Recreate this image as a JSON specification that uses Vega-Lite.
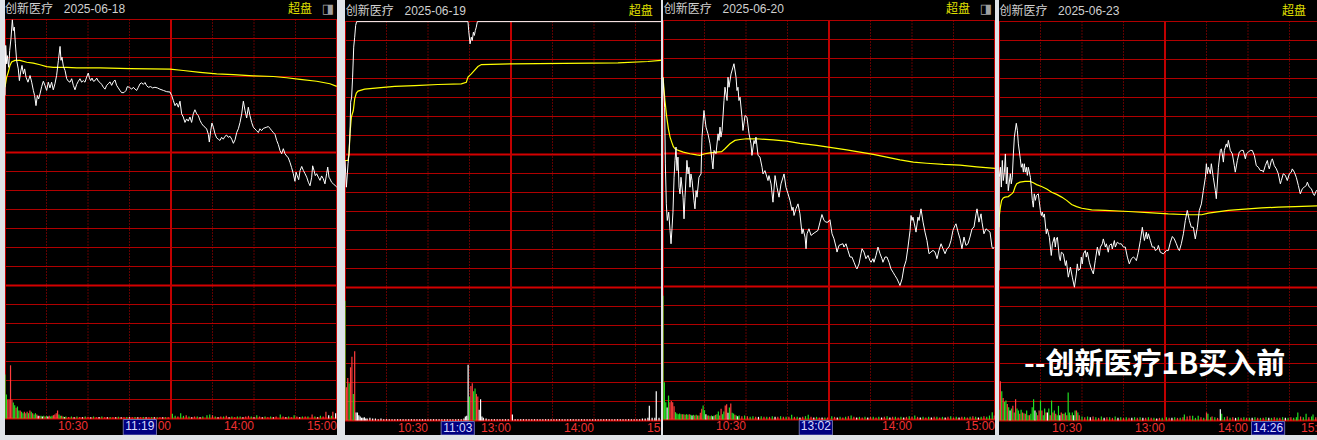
{
"$schema": "https://vega.github.io/schema/vega-lite/v6.json",
"background": "#dfe3e8",
"padding": {"left": 5, "top": 0, "right": 0, "bottom": 5},
"autosize": {"type": "pad"},
"config": {"view": {"stroke": null, "fill": "#000000"}, "axis": {"disable": true}},
"datasets": {
"vs": [{"t":0},{"t":120},{"t":240}],
"vd": [{"t":30},{"t":60},{"t":90},{"t":150},{"t":180},{"t":210}],
"tl": [{"t":60,"l":"10:30"},{"t":120,"l":"13:00"},{"t":180,"l":"14:00"},{"t":240,"l":"15:00"}],
"g1": [{"g":-8.4},{"g":-7.8},{"g":-7.2},{"g":-6.6},{"g":-6},{"g":-5.4},{"g":-4.8},{"g":-4.2},{"g":-3.6},{"g":-3},{"g":-2.4},{"g":-1.8},{"g":-1.2},{"g":-0.6},{"g":0},{"g":0.6},{"g":1.2},{"g":1.8},{"g":2.4},{"g":3},{"g":3.6},{"g":4.2}],
"g2": [{"g":-20.02},{"g":-18.59},{"g":-17.16},{"g":-15.73},{"g":-14.3},{"g":-12.87},{"g":-11.44},{"g":-10.01},{"g":-8.58},{"g":-7.15},{"g":-5.72},{"g":-4.29},{"g":-2.86},{"g":-1.43},{"g":0},{"g":1.43},{"g":2.86},{"g":4.29},{"g":5.72},{"g":7.15},{"g":8.58},{"g":10.01}],
"g3": [{"g":-11.2},{"g":-10.4},{"g":-9.6},{"g":-8.8},{"g":-8},{"g":-7.2},{"g":-6.4},{"g":-5.6},{"g":-4.8},{"g":-4},{"g":-3.2},{"g":-2.4},{"g":-1.6},{"g":-0.8},{"g":0},{"g":0.8},{"g":1.6},{"g":2.4},{"g":3.2},{"g":4},{"g":4.8},{"g":5.6}],
"g4": [{"g":-9.8},{"g":-9.1},{"g":-8.4},{"g":-7.7},{"g":-7},{"g":-6.3},{"g":-5.6},{"g":-4.9},{"g":-4.2},{"g":-3.5},{"g":-2.8},{"g":-2.1},{"g":-1.4},{"g":-0.7},{"g":0},{"g":0.7},{"g":1.4},{"g":2.1},{"g":2.8},{"g":3.5},{"g":4.2},{"g":4.9}],
"p1": [{"m":0,"p":1.8},{"m":0.5,"p":3.38},{"m":1.2,"p":2.8},{"m":1.7,"p":3.06},{"m":2.7,"p":2.69},{"m":3.4,"p":3.22},{"m":4.3,"p":3.59},{"m":5.3,"p":4.19},{"m":6,"p":3.85},{"m":6.7,"p":3.96},{"m":7.5,"p":3.43},{"m":8.4,"p":2.91},{"m":9.6,"p":2.64},{"m":10.4,"p":2.27},{"m":11.3,"p":2.54},{"m":12.3,"p":2.75},{"m":13.3,"p":2.48},{"m":14.2,"p":2.64},{"m":15.2,"p":2.38},{"m":16.6,"p":2.22},{"m":18.1,"p":2.43},{"m":19.3,"p":2.22},{"m":20.5,"p":1.96},{"m":21.4,"p":1.8},{"m":22.4,"p":1.48},{"m":23.4,"p":1.8},{"m":24.3,"p":1.69},{"m":25.3,"p":1.85},{"m":26.5,"p":2.08},{"m":27.7,"p":2.25},{"m":28.9,"p":2.12},{"m":30.1,"p":1.96},{"m":31.3,"p":2.22},{"m":32.5,"p":2.04},{"m":33.7,"p":2.22},{"m":34.9,"p":1.98},{"m":36.1,"p":2.17},{"m":37.3,"p":2.43},{"m":38.6,"p":2.91},{"m":39.8,"p":3.35},{"m":40.5,"p":2.91},{"m":41.2,"p":3.01},{"m":42.2,"p":2.72},{"m":43.4,"p":2.59},{"m":44.6,"p":2.33},{"m":45.8,"p":2.25},{"m":47,"p":2.22},{"m":48.2,"p":2.33},{"m":49.4,"p":2.12},{"m":50.6,"p":1.98},{"m":51.8,"p":2.15},{"m":53,"p":2.25},{"m":54.2,"p":2.33},{"m":55.4,"p":2.22},{"m":56.6,"p":2.27},{"m":57.8,"p":2.22},{"m":59,"p":2.38},{"m":60.2,"p":2.51},{"m":61,"p":2.36},{"m":61.9,"p":2.27},{"m":62.9,"p":2.35},{"m":63.9,"p":2.25},{"m":65.1,"p":2.27},{"m":66.3,"p":2.35},{"m":67.5,"p":2.25},{"m":68.7,"p":2.21},{"m":69.9,"p":2.15},{"m":71.1,"p":2.06},{"m":72.3,"p":2},{"m":73.5,"p":2.12},{"m":74.7,"p":2.17},{"m":75.9,"p":2.23},{"m":77.1,"p":2.12},{"m":78.3,"p":2.23},{"m":79.5,"p":2.29},{"m":80.7,"p":2.12},{"m":81.9,"p":2.04},{"m":83.1,"p":1.96},{"m":84.3,"p":1.89},{"m":86,"p":1.89},{"m":87.5,"p":1.96},{"m":88.4,"p":2.08},{"m":89.9,"p":2.06},{"m":91.6,"p":2},{"m":92.8,"p":2.06},{"m":94,"p":2},{"m":95.2,"p":1.96},{"m":96.4,"p":2.06},{"m":97.6,"p":2.17},{"m":98.8,"p":2.2},{"m":100,"p":2.15},{"m":101.2,"p":2.21},{"m":102.4,"p":2.11},{"m":103.6,"p":2.06},{"m":105.3,"p":2.08},{"m":106.7,"p":2.04},{"m":108.4,"p":2.06},{"m":110.1,"p":2.04},{"m":112,"p":2},{"m":114.5,"p":1.96},{"m":116.9,"p":1.92},{"m":119.3,"p":1.91},{"m":120.5,"p":1.8},{"m":121.7,"p":1.64},{"m":122.9,"p":1.48},{"m":124.1,"p":1.56},{"m":125.3,"p":1.43},{"m":126.5,"p":1.62},{"m":127.7,"p":1.22},{"m":128.9,"p":1.12},{"m":130.1,"p":0.95},{"m":131.3,"p":1.06},{"m":132.5,"p":0.99},{"m":133.7,"p":1.12},{"m":134.9,"p":0.95},{"m":136.1,"p":1.22},{"m":137.3,"p":1.35},{"m":138.6,"p":1.22},{"m":139.8,"p":1.16},{"m":141,"p":1.01},{"m":142.2,"p":0.91},{"m":143.4,"p":0.84},{"m":144.6,"p":0.8},{"m":145.8,"p":0.74},{"m":147,"p":0.57},{"m":147.7,"p":0.33},{"m":148.7,"p":0.69},{"m":149.6,"p":0.93},{"m":150.6,"p":0.8},{"m":151.8,"p":0.59},{"m":153,"p":0.46},{"m":154.2,"p":0.42},{"m":155.4,"p":0.38},{"m":156.6,"p":0.48},{"m":157.8,"p":0.42},{"m":159,"p":0.51},{"m":160.2,"p":0.55},{"m":161.4,"p":0.48},{"m":162.7,"p":0.51},{"m":163.9,"p":0.42},{"m":165.1,"p":0.29},{"m":166.3,"p":0.4},{"m":167.5,"p":0.63},{"m":168.7,"p":0.75},{"m":169.9,"p":0.95},{"m":171.1,"p":1.22},{"m":172.3,"p":1.62},{"m":173.5,"p":1.33},{"m":174.7,"p":1.09},{"m":175.9,"p":1.43},{"m":177.1,"p":1.16},{"m":178.3,"p":0.95},{"m":179.5,"p":0.8},{"m":180.7,"p":0.74},{"m":181.9,"p":0.69},{"m":183.1,"p":0.63},{"m":184.3,"p":0.75},{"m":185.5,"p":0.69},{"m":186.7,"p":0.76},{"m":187.9,"p":0.78},{"m":189.2,"p":0.8},{"m":190.4,"p":0.82},{"m":191.6,"p":0.76},{"m":192.8,"p":0.69},{"m":194,"p":0.63},{"m":195.2,"p":0.57},{"m":196.4,"p":0.38},{"m":197.6,"p":0.25},{"m":198.8,"p":0.06},{"m":200,"p":-0.04},{"m":201.2,"p":0.12},{"m":202.4,"p":-0.04},{"m":203.6,"p":-0.11},{"m":204.8,"p":-0.17},{"m":206,"p":-0.31},{"m":207.2,"p":-0.48},{"m":208.4,"p":-0.67},{"m":209.6,"p":-0.91},{"m":210.4,"p":-0.62},{"m":211.3,"p":-0.74},{"m":212.3,"p":-0.86},{"m":213.3,"p":-0.57},{"m":214.5,"p":-0.44},{"m":215.7,"p":-0.57},{"m":216.9,"p":-0.67},{"m":218.1,"p":-0.78},{"m":219.3,"p":-0.94},{"m":220.5,"p":-1.05},{"m":221.7,"p":-0.78},{"m":222.4,"p":-0.42},{"m":223.4,"p":-0.57},{"m":224.3,"p":-0.73},{"m":225.3,"p":-0.67},{"m":226.5,"p":-0.78},{"m":227.7,"p":-0.88},{"m":228.9,"p":-0.74},{"m":230.1,"p":-0.83},{"m":231.3,"p":-0.99},{"m":232.5,"p":-0.67},{"m":233.3,"p":-0.46},{"m":234.2,"p":-0.78},{"m":234.9,"p":-0.83},{"m":236.1,"p":-0.94},{"m":237.3,"p":-0.99},{"m":238.6,"p":-1.04},{"m":239.8,"p":-1.09}],
"a1": [{"m":0,"p":2.06},{"m":1.2,"p":2.38},{"m":2.4,"p":2.54},{"m":3.6,"p":2.75},{"m":4.8,"p":2.86},{"m":7.2,"p":2.91},{"m":10.8,"p":2.91},{"m":15.7,"p":2.85},{"m":20.5,"p":2.82},{"m":25.3,"p":2.77},{"m":30.1,"p":2.71},{"m":34.9,"p":2.69},{"m":44.6,"p":2.69},{"m":51.8,"p":2.67},{"m":68.7,"p":2.67},{"m":90.4,"p":2.65},{"m":119.3,"p":2.63},{"m":128.9,"p":2.59},{"m":141,"p":2.53},{"m":153,"p":2.48},{"m":165.1,"p":2.46},{"m":179.5,"p":2.42},{"m":194,"p":2.4},{"m":203.6,"p":2.36},{"m":213.3,"p":2.31},{"m":225.3,"p":2.25},{"m":234.9,"p":2.17},{"m":239.8,"p":2.09}],
"v1": [{"m":0,"v":33,"c":"g"},{"m":1,"v":18,"c":"g"},{"m":2,"v":14,"c":"r"},{"m":3,"v":14,"c":"r"},{"m":4,"v":40,"c":"r"},{"m":5,"v":14,"c":"r"},{"m":6,"v":12,"c":"g"},{"m":7,"v":10,"c":"g"},{"m":8,"v":8,"c":"r"},{"m":9,"v":9,"c":"g"},{"m":10,"v":6,"c":"g"},{"m":11,"v":6,"c":"r"},{"m":12,"v":5,"c":"g"},{"m":13,"v":4,"c":"g"},{"m":14,"v":5,"c":"r"},{"m":15,"v":4,"c":"g"},{"m":16,"v":5,"c":"r"},{"m":17,"v":4,"c":"g"},{"m":18,"v":6,"c":"r"},{"m":19,"v":5,"c":"g"},{"m":20,"v":4,"c":"r"},{"m":21,"v":3,"c":"g"},{"m":22,"v":4,"c":"g"},{"m":23,"v":3,"c":"r"},{"m":24,"v":2,"c":"w"},{"m":25,"v":2,"c":"r"},{"m":26,"v":2,"c":"g"},{"m":27,"v":1.5,"c":"w"},{"m":28,"v":2,"c":"g"},{"m":29,"v":1.5,"c":"r"},{"m":30,"v":2,"c":"g"},{"m":31,"v":1.5,"c":"w"},{"m":32,"v":2,"c":"r"},{"m":33,"v":1.5,"c":"g"},{"m":34,"v":2,"c":"g"},{"m":35,"v":2.5,"c":"r"},{"m":36,"v":3,"c":"r"},{"m":37,"v":4,"c":"r"},{"m":38,"v":6,"c":"r"},{"m":39,"v":3,"c":"g"},{"m":40,"v":2,"c":"g"},{"m":41,"v":2,"c":"r"},{"m":42,"v":1.5,"c":"g"},{"m":43,"v":1,"c":"w"},{"m":44,"v":1.5,"c":"g"},{"m":46,"v":1.2,"c":"r"},{"m":48,"v":1.5,"c":"g"},{"m":50,"v":1,"c":"w"},{"m":52,"v":1.5,"c":"g"},{"m":54,"v":1.2,"c":"r"},{"m":56,"v":1,"c":"w"},{"m":58,"v":1.5,"c":"g"},{"m":60,"v":1.2,"c":"r"},{"m":62,"v":1,"c":"w"},{"m":64,"v":1.5,"c":"g"},{"m":66,"v":1,"c":"r"},{"m":68,"v":1.2,"c":"w"},{"m":70,"v":1.5,"c":"g"},{"m":72,"v":1,"c":"r"},{"m":74,"v":1,"c":"w"},{"m":76,"v":1.2,"c":"g"},{"m":78,"v":1,"c":"r"},{"m":80,"v":1,"c":"w"},{"m":82,"v":1.3,"c":"g"},{"m":84,"v":1,"c":"w"},{"m":86,"v":1,"c":"r"},{"m":88,"v":1.2,"c":"g"},{"m":90,"v":1,"c":"w"},{"m":92,"v":1,"c":"r"},{"m":94,"v":1.2,"c":"g"},{"m":96,"v":1,"c":"w"},{"m":98,"v":1,"c":"r"},{"m":100,"v":1.2,"c":"g"},{"m":102,"v":1,"c":"w"},{"m":104,"v":1,"c":"r"},{"m":106,"v":1.2,"c":"g"},{"m":108,"v":1,"c":"w"},{"m":110,"v":1,"c":"g"},{"m":112,"v":1,"c":"r"},{"m":114,"v":1,"c":"w"},{"m":116,"v":1,"c":"g"},{"m":118,"v":1,"c":"r"},{"m":121,"v":3.5,"c":"g"},{"m":123,"v":2,"c":"g"},{"m":125,"v":1.5,"c":"r"},{"m":127,"v":4,"c":"g"},{"m":129,"v":2,"c":"g"},{"m":131,"v":2.5,"c":"r"},{"m":133,"v":1.5,"c":"g"},{"m":135,"v":1,"c":"w"},{"m":137,"v":1.5,"c":"r"},{"m":139,"v":1.5,"c":"g"},{"m":141,"v":1,"c":"w"},{"m":143,"v":1.5,"c":"g"},{"m":146,"v":2.5,"c":"g"},{"m":148,"v":3,"c":"g"},{"m":150,"v":2.5,"c":"r"},{"m":152,"v":1.5,"c":"g"},{"m":154,"v":1,"c":"w"},{"m":156,"v":1.5,"c":"r"},{"m":158,"v":1.5,"c":"g"},{"m":160,"v":2,"c":"r"},{"m":162,"v":1,"c":"w"},{"m":164,"v":1.5,"c":"g"},{"m":166,"v":1,"c":"r"},{"m":168,"v":1.5,"c":"g"},{"m":170,"v":1.5,"c":"g"},{"m":172,"v":1,"c":"w"},{"m":174,"v":1.5,"c":"r"},{"m":176,"v":2,"c":"r"},{"m":178,"v":1.5,"c":"g"},{"m":180,"v":1,"c":"w"},{"m":182,"v":2.5,"c":"g"},{"m":184,"v":1.5,"c":"r"},{"m":186,"v":1,"c":"w"},{"m":188,"v":1.5,"c":"g"},{"m":190,"v":1,"c":"r"},{"m":192,"v":1.5,"c":"g"},{"m":194,"v":1,"c":"w"},{"m":196,"v":1.5,"c":"r"},{"m":199,"v":3,"c":"g"},{"m":201,"v":1.5,"c":"r"},{"m":203,"v":1,"c":"w"},{"m":205,"v":1.5,"c":"g"},{"m":207,"v":1,"c":"r"},{"m":209,"v":2.5,"c":"g"},{"m":211,"v":1.5,"c":"r"},{"m":213,"v":1,"c":"w"},{"m":215,"v":1.5,"c":"g"},{"m":217,"v":1.5,"c":"r"},{"m":219,"v":1.5,"c":"g"},{"m":222,"v":3,"c":"r"},{"m":224,"v":1.5,"c":"g"},{"m":226,"v":1,"c":"w"},{"m":228,"v":2,"c":"g"},{"m":230,"v":1.5,"c":"r"},{"m":232,"v":5,"c":"r"},{"m":234,"v":2.5,"c":"w"},{"m":236,"v":2,"c":"g"},{"m":237,"v":5,"c":"r"},{"m":239,"v":4,"c":"w"}],
"p2": [{"m":0,"p":-0.45},{"m":1,"p":-2.46},{"m":1.7,"p":-1.46},{"m":2.2,"p":-0.7},{"m":2.9,"p":0.05},{"m":3.6,"p":1.56},{"m":4.1,"p":3.94},{"m":4.8,"p":4.32},{"m":5.5,"p":5.82},{"m":6.3,"p":8.08},{"m":7,"p":8.83},{"m":7.7,"p":9.71},{"m":8.4,"p":10},{"m":88.9,"p":10},{"m":89.4,"p":9.33},{"m":90.4,"p":8.33},{"m":91.3,"p":8.83},{"m":92,"p":8.58},{"m":92.8,"p":9.21},{"m":93.5,"p":8.96},{"m":94.2,"p":9.33},{"m":94.9,"p":9.58},{"m":95.7,"p":10},{"m":240,"p":10}],
"a2": [{"m":0,"p":-0.45},{"m":2.2,"p":-0.45},{"m":2.9,"p":0.05},{"m":3.6,"p":1.56},{"m":4.6,"p":2.81},{"m":6,"p":3.31},{"m":7,"p":4.19},{"m":8.2,"p":4.62},{"m":9.4,"p":4.77},{"m":14.2,"p":4.92},{"m":23.9,"p":5.02},{"m":35.9,"p":5.12},{"m":50.4,"p":5.19},{"m":67.2,"p":5.27},{"m":84.1,"p":5.32},{"m":87.7,"p":5.44},{"m":88.9,"p":5.82},{"m":91.3,"p":6.07},{"m":96.1,"p":6.62},{"m":98.6,"p":6.77},{"m":120.2,"p":6.82},{"m":197.3,"p":6.9},{"m":219,"p":7},{"m":228.2,"p":7.08},{"m":240,"p":7.12}],
"v2": [{"m":0,"v":90,"c":"g"},{"m":1,"v":25,"c":"r"},{"m":2,"v":32,"c":"r"},{"m":3,"v":28,"c":"g"},{"m":4,"v":40,"c":"r"},{"m":5,"v":48,"c":"r"},{"m":6,"v":20,"c":"g"},{"m":7,"v":52,"c":"r"},{"m":8,"v":6,"c":"w"},{"m":9,"v":6,"c":"w"},{"m":10,"v":4,"c":"w"},{"m":11,"v":3,"c":"w"},{"m":12,"v":2,"c":"w"},{"m":13,"v":2,"c":"w"},{"m":14,"v":2.5,"c":"w"},{"m":15,"v":1.5,"c":"w"},{"m":16,"v":1.5,"c":"w"},{"m":18,"v":2,"c":"w"},{"m":20,"v":1.5,"c":"w"},{"m":22,"v":1.5,"c":"w"},{"m":24,"v":1,"c":"w"},{"m":26,"v":1.5,"c":"w"},{"m":28,"v":1,"c":"w"},{"m":30,"v":1,"c":"w"},{"m":32,"v":1,"c":"w"},{"m":34,"v":1,"c":"w"},{"m":36,"v":1,"c":"w"},{"m":38,"v":1,"c":"w"},{"m":40,"v":1,"c":"w"},{"m":42,"v":1,"c":"w"},{"m":44,"v":1,"c":"w"},{"m":46,"v":1,"c":"w"},{"m":48,"v":1,"c":"w"},{"m":50,"v":1,"c":"w"},{"m":52,"v":1,"c":"w"},{"m":54,"v":1,"c":"w"},{"m":56,"v":1,"c":"w"},{"m":58,"v":1,"c":"w"},{"m":60,"v":1,"c":"w"},{"m":62,"v":1,"c":"w"},{"m":64,"v":1,"c":"w"},{"m":66,"v":1,"c":"w"},{"m":68,"v":1,"c":"w"},{"m":70,"v":1,"c":"w"},{"m":72,"v":1,"c":"w"},{"m":74,"v":1,"c":"w"},{"m":76,"v":1,"c":"w"},{"m":78,"v":1,"c":"w"},{"m":80,"v":1,"c":"w"},{"m":82,"v":1,"c":"w"},{"m":84,"v":1,"c":"w"},{"m":86,"v":1.5,"c":"w"},{"m":87,"v":3,"c":"w"},{"m":88,"v":3.5,"c":"w"},{"m":89,"v":42,"c":"w"},{"m":90,"v":18,"c":"g"},{"m":91,"v":26,"c":"r"},{"m":92,"v":28,"c":"r"},{"m":93,"v":22,"c":"g"},{"m":94,"v":24,"c":"g"},{"m":95,"v":20,"c":"r"},{"m":96,"v":18,"c":"r"},{"m":97,"v":8,"c":"w"},{"m":98,"v":16,"c":"w"},{"m":99,"v":3,"c":"w"},{"m":100,"v":2,"c":"w"},{"m":102,"v":1.5,"c":"w"},{"m":104,"v":1,"c":"w"},{"m":106,"v":1,"c":"w"},{"m":108,"v":1,"c":"w"},{"m":110,"v":1,"c":"w"},{"m":112,"v":1,"c":"w"},{"m":114,"v":1,"c":"w"},{"m":116,"v":1,"c":"w"},{"m":118,"v":1,"c":"w"},{"m":121,"v":4.5,"c":"w"},{"m":123,"v":1,"c":"w"},{"m":125,"v":1,"c":"w"},{"m":127,"v":1,"c":"w"},{"m":129,"v":1,"c":"w"},{"m":131,"v":1,"c":"w"},{"m":133,"v":1,"c":"w"},{"m":135,"v":1,"c":"w"},{"m":137,"v":1,"c":"w"},{"m":139,"v":1,"c":"w"},{"m":141,"v":1,"c":"w"},{"m":143,"v":1,"c":"w"},{"m":145,"v":1,"c":"w"},{"m":147,"v":1,"c":"w"},{"m":149,"v":1,"c":"w"},{"m":151,"v":1,"c":"w"},{"m":153,"v":1,"c":"w"},{"m":155,"v":1,"c":"w"},{"m":157,"v":1,"c":"w"},{"m":159,"v":1,"c":"w"},{"m":161,"v":1,"c":"w"},{"m":163,"v":1,"c":"w"},{"m":165,"v":1,"c":"w"},{"m":167,"v":1,"c":"w"},{"m":169,"v":1,"c":"w"},{"m":171,"v":1,"c":"w"},{"m":173,"v":1,"c":"w"},{"m":175,"v":1,"c":"w"},{"m":177,"v":1,"c":"w"},{"m":179,"v":1,"c":"w"},{"m":181,"v":1,"c":"w"},{"m":183,"v":1,"c":"w"},{"m":185,"v":1,"c":"w"},{"m":187,"v":1,"c":"w"},{"m":189,"v":1,"c":"w"},{"m":191,"v":1,"c":"w"},{"m":193,"v":1,"c":"w"},{"m":195,"v":1,"c":"w"},{"m":197,"v":1,"c":"w"},{"m":199,"v":1,"c":"w"},{"m":201,"v":1,"c":"w"},{"m":203,"v":1,"c":"w"},{"m":205,"v":1,"c":"w"},{"m":207,"v":1,"c":"w"},{"m":209,"v":1,"c":"w"},{"m":211,"v":1,"c":"w"},{"m":213,"v":1,"c":"w"},{"m":215,"v":1.5,"c":"w"},{"m":217,"v":1.5,"c":"w"},{"m":219,"v":2,"c":"w"},{"m":220,"v":11,"c":"w"},{"m":222,"v":2,"c":"w"},{"m":224,"v":2,"c":"w"},{"m":225,"v":22,"c":"w"},{"m":227,"v":2,"c":"w"}],
"p3": [{"m":0,"p":3.21},{"m":1.2,"p":1.95},{"m":1.7,"p":-0.44},{"m":2.4,"p":-2.12},{"m":3.1,"p":-2.82},{"m":4.1,"p":-2.47},{"m":5.1,"p":-3.24},{"m":5.8,"p":-3.8},{"m":6.5,"p":-3.17},{"m":7.2,"p":-2.47},{"m":8,"p":-1},{"m":8.7,"p":-0.29},{"m":9.4,"p":0.27},{"m":10.1,"p":-0.72},{"m":10.8,"p":-0.15},{"m":11.6,"p":-1.42},{"m":12.3,"p":-1.7},{"m":13,"p":-1},{"m":14.5,"p":-1.84},{"m":15.2,"p":-2.75},{"m":15.9,"p":-1.84},{"m":17.3,"p":-0.29},{"m":18.1,"p":-0.86},{"m":18.8,"p":-0.58},{"m":19.5,"p":-1.42},{"m":20.2,"p":-0.86},{"m":21,"p":-1.14},{"m":22.4,"p":-1.98},{"m":23.1,"p":-2.33},{"m":23.9,"p":-1.56},{"m":24.6,"p":-1.84},{"m":26,"p":-1},{"m":27.5,"p":-0.86},{"m":28.2,"p":0.69},{"m":29.6,"p":1.81},{"m":31.1,"p":1.11},{"m":32.5,"p":0.83},{"m":34,"p":0.41},{"m":35.4,"p":-0.29},{"m":36.1,"p":-0.65},{"m":36.9,"p":0.13},{"m":38.3,"p":-0.01},{"m":39.8,"p":0.83},{"m":40.5,"p":0.55},{"m":41.2,"p":1.11},{"m":41.9,"p":0.69},{"m":42.7,"p":0.97},{"m":44.1,"p":2.23},{"m":44.8,"p":2.79},{"m":46.3,"p":2.23},{"m":47,"p":3.21},{"m":47.7,"p":2.79},{"m":49.2,"p":3.35},{"m":50.6,"p":3.64},{"m":51.3,"p":3.78},{"m":52.8,"p":3.21},{"m":53.5,"p":2.65},{"m":54.2,"p":2.79},{"m":54.9,"p":2.23},{"m":55.7,"p":2.37},{"m":57.1,"p":1.53},{"m":57.8,"p":0.97},{"m":59.3,"p":1.6},{"m":60.7,"p":1.53},{"m":62.2,"p":0.83},{"m":63.6,"p":0.41},{"m":64.3,"p":-0.08},{"m":65.8,"p":0.55},{"m":66.5,"p":0.41},{"m":67.2,"p":0.69},{"m":68.7,"p":-0.08},{"m":70.1,"p":-0.15},{"m":71.6,"p":-0.58},{"m":72.3,"p":-0.86},{"m":73.7,"p":-0.72},{"m":75.9,"p":-1.14},{"m":76.6,"p":-0.93},{"m":78.1,"p":-1.28},{"m":79.5,"p":-2.05},{"m":81,"p":-0.93},{"m":82.4,"p":-1.42},{"m":83.9,"p":-1.84},{"m":85.3,"p":-1.28},{"m":87.5,"p":-0.86},{"m":88.9,"p":-1.42},{"m":90.4,"p":-1.7},{"m":91.8,"p":-1.98},{"m":93.3,"p":-2.4},{"m":94,"p":-2.26},{"m":94.7,"p":-2.61},{"m":96.1,"p":-2.33},{"m":97.6,"p":-2.12},{"m":99,"p":-2.54},{"m":100.5,"p":-3.38},{"m":101.2,"p":-3.17},{"m":102.7,"p":-3.52},{"m":103.4,"p":-4.01},{"m":104.1,"p":-3.38},{"m":105.5,"p":-3.17},{"m":107,"p":-3.45},{"m":109.2,"p":-3.35},{"m":112,"p":-3.24},{"m":113.5,"p":-2.89},{"m":114.9,"p":-2.57},{"m":116.4,"p":-2.82},{"m":117.8,"p":-2.89},{"m":119.3,"p":-2.89},{"m":120.7,"p":-2.79},{"m":122.2,"p":-3.38},{"m":123.6,"p":-3.59},{"m":125.1,"p":-3.94},{"m":125.8,"p":-4.15},{"m":127.2,"p":-3.87},{"m":128.7,"p":-3.83},{"m":130.1,"p":-3.8},{"m":130.8,"p":-3.94},{"m":132.3,"p":-3.8},{"m":133.7,"p":-4.08},{"m":135.2,"p":-4.36},{"m":136.6,"p":-4.36},{"m":138.1,"p":-4.58},{"m":139.5,"p":-4.79},{"m":140.2,"p":-4.86},{"m":141.7,"p":-4.65},{"m":143.1,"p":-4.22},{"m":143.9,"p":-4.01},{"m":145.3,"p":-4.15},{"m":146.7,"p":-4.43},{"m":148.2,"p":-4.29},{"m":149.6,"p":-4.51},{"m":150.4,"p":-4.58},{"m":151.8,"p":-4.43},{"m":152.5,"p":-4.58},{"m":154,"p":-4.29},{"m":155.4,"p":-3.94},{"m":156.9,"p":-4.22},{"m":158.3,"p":-4.43},{"m":159,"p":-4.58},{"m":160.5,"p":-4.36},{"m":161.9,"p":-4.36},{"m":163.4,"p":-4.58},{"m":164.8,"p":-4.86},{"m":166.3,"p":-5},{"m":167.7,"p":-5.14},{"m":169.2,"p":-5.28},{"m":170.6,"p":-5.46},{"m":171.3,"p":-5.56},{"m":172.8,"p":-5.28},{"m":174.2,"p":-4.79},{"m":175.7,"p":-4.51},{"m":177.1,"p":-3.94},{"m":178.6,"p":-3.24},{"m":179.3,"p":-2.61},{"m":180,"p":-2.82},{"m":180.7,"p":-2.68},{"m":182.2,"p":-3.1},{"m":182.9,"p":-3.31},{"m":184.3,"p":-2.68},{"m":185.1,"p":-2.82},{"m":186.5,"p":-2.33},{"m":188,"p":-2.89},{"m":189.4,"p":-3.31},{"m":190.8,"p":-3.66},{"m":192.3,"p":-4.22},{"m":193.7,"p":-4.15},{"m":195.2,"p":-4.08},{"m":196.6,"p":-4.15},{"m":198.1,"p":-4.43},{"m":199.5,"p":-4.08},{"m":201,"p":-3.8},{"m":202.4,"p":-4.01},{"m":203.9,"p":-4.22},{"m":205.3,"p":-4.01},{"m":206.7,"p":-3.94},{"m":208.2,"p":-3.66},{"m":209.6,"p":-3.24},{"m":211.1,"p":-3.03},{"m":211.8,"p":-2.96},{"m":213.3,"p":-3.31},{"m":214.7,"p":-3.59},{"m":216.1,"p":-4.01},{"m":217.6,"p":-3.52},{"m":219,"p":-3.87},{"m":220.5,"p":-3.8},{"m":221.9,"p":-3.52},{"m":223.4,"p":-3.17},{"m":224.8,"p":-3.1},{"m":226.3,"p":-2.54},{"m":227,"p":-2.33},{"m":228.4,"p":-2.89},{"m":229.9,"p":-2.54},{"m":230.6,"p":-2.89},{"m":232,"p":-3.38},{"m":233.5,"p":-3.17},{"m":234.9,"p":-3.24},{"m":236.4,"p":-3.31},{"m":237.8,"p":-3.94},{"m":238.6,"p":-4.01},{"m":239.3,"p":-3.94}],
"a3": [{"m":0,"p":3.21},{"m":1.4,"p":2.23},{"m":2.7,"p":1.53},{"m":3.9,"p":1.04},{"m":5.1,"p":0.69},{"m":6.3,"p":0.48},{"m":7.5,"p":0.29},{"m":8.7,"p":0.2},{"m":11.1,"p":0.13},{"m":14.7,"p":0.06},{"m":19.5,"p":-0.01},{"m":24.3,"p":-0.06},{"m":26.7,"p":-0.08},{"m":30.4,"p":-0.01},{"m":34,"p":0.03},{"m":38.8,"p":0.06},{"m":42.4,"p":0.08},{"m":44.8,"p":0.2},{"m":48.4,"p":0.41},{"m":52,"p":0.55},{"m":55.7,"p":0.59},{"m":60.5,"p":0.62},{"m":67.7,"p":0.62},{"m":79.7,"p":0.57},{"m":89.4,"p":0.52},{"m":99,"p":0.43},{"m":111.1,"p":0.34},{"m":123.1,"p":0.24},{"m":132.8,"p":0.15},{"m":142.4,"p":0.06},{"m":152,"p":-0.04},{"m":161.7,"p":-0.15},{"m":171.3,"p":-0.27},{"m":181,"p":-0.36},{"m":190.6,"p":-0.41},{"m":202.7,"p":-0.46},{"m":214.7,"p":-0.49},{"m":226.8,"p":-0.56},{"m":240,"p":-0.63}],
"v3": [{"m":0,"v":93,"c":"g"},{"m":1,"v":28,"c":"g"},{"m":2,"v":13,"c":"g"},{"m":3,"v":9,"c":"w"},{"m":4,"v":18,"c":"g"},{"m":5,"v":13,"c":"r"},{"m":6,"v":14,"c":"r"},{"m":7,"v":13,"c":"r"},{"m":8,"v":10,"c":"r"},{"m":9,"v":5.5,"c":"g"},{"m":10,"v":4.5,"c":"g"},{"m":11,"v":4,"c":"g"},{"m":12,"v":4.5,"c":"g"},{"m":13,"v":4,"c":"g"},{"m":14,"v":4,"c":"r"},{"m":15,"v":4,"c":"g"},{"m":16,"v":3.5,"c":"r"},{"m":17,"v":4,"c":"g"},{"m":18,"v":3.5,"c":"g"},{"m":19,"v":4,"c":"r"},{"m":20,"v":3.5,"c":"g"},{"m":21,"v":3,"c":"w"},{"m":22,"v":3.5,"c":"g"},{"m":23,"v":3,"c":"r"},{"m":24,"v":3.5,"c":"g"},{"m":25,"v":3,"c":"r"},{"m":26,"v":3,"c":"g"},{"m":27,"v":5,"c":"r"},{"m":28,"v":8,"c":"r"},{"m":29,"v":10.5,"c":"g"},{"m":30,"v":7,"c":"g"},{"m":31,"v":4,"c":"w"},{"m":32,"v":3,"c":"r"},{"m":33,"v":3,"c":"g"},{"m":34,"v":2.5,"c":"r"},{"m":35,"v":3,"c":"g"},{"m":36,"v":2.5,"c":"w"},{"m":37,"v":3,"c":"g"},{"m":38,"v":3.5,"c":"r"},{"m":39,"v":4,"c":"g"},{"m":40,"v":6,"c":"g"},{"m":41,"v":3,"c":"r"},{"m":42,"v":8,"c":"r"},{"m":43,"v":4,"c":"g"},{"m":44,"v":6,"c":"g"},{"m":45,"v":10.5,"c":"r"},{"m":46,"v":11.5,"c":"r"},{"m":47,"v":5,"c":"w"},{"m":48,"v":9,"c":"g"},{"m":49,"v":12,"c":"r"},{"m":50,"v":5,"c":"g"},{"m":51,"v":4.5,"c":"g"},{"m":52,"v":3.5,"c":"r"},{"m":53,"v":3,"c":"g"},{"m":54,"v":2.5,"c":"w"},{"m":55,"v":3,"c":"g"},{"m":57,"v":2.5,"c":"r"},{"m":59,"v":3,"c":"g"},{"m":61,"v":2.5,"c":"r"},{"m":63,"v":2,"c":"g"},{"m":65,"v":2.5,"c":"g"},{"m":67,"v":2,"c":"r"},{"m":69,"v":2,"c":"w"},{"m":71,"v":2.5,"c":"g"},{"m":73,"v":2,"c":"r"},{"m":75,"v":2,"c":"g"},{"m":77,"v":2,"c":"r"},{"m":79,"v":2.5,"c":"g"},{"m":81,"v":2,"c":"w"},{"m":83,"v":2,"c":"r"},{"m":85,"v":2.5,"c":"g"},{"m":87,"v":2,"c":"r"},{"m":89,"v":2,"c":"g"},{"m":91,"v":2,"c":"r"},{"m":93,"v":3.5,"c":"g"},{"m":95,"v":2,"c":"r"},{"m":97,"v":2,"c":"g"},{"m":99,"v":1.5,"c":"w"},{"m":101,"v":2,"c":"r"},{"m":103,"v":2.5,"c":"g"},{"m":105,"v":3.5,"c":"g"},{"m":107,"v":2,"c":"r"},{"m":109,"v":1.5,"c":"w"},{"m":111,"v":2,"c":"g"},{"m":113,"v":1.5,"c":"r"},{"m":115,"v":1.5,"c":"w"},{"m":117,"v":1.5,"c":"g"},{"m":119,"v":1.5,"c":"r"},{"m":122,"v":2.5,"c":"g"},{"m":124,"v":2,"c":"r"},{"m":126,"v":1.5,"c":"w"},{"m":128,"v":2,"c":"g"},{"m":130,"v":1.5,"c":"r"},{"m":132,"v":2,"c":"g"},{"m":134,"v":2.5,"c":"r"},{"m":136,"v":3,"c":"g"},{"m":138,"v":2,"c":"r"},{"m":140,"v":1.5,"c":"w"},{"m":142,"v":2,"c":"g"},{"m":144,"v":1.5,"c":"r"},{"m":146,"v":2,"c":"g"},{"m":148,"v":1.5,"c":"w"},{"m":150,"v":2,"c":"r"},{"m":152,"v":2,"c":"g"},{"m":154,"v":1.5,"c":"r"},{"m":156,"v":2,"c":"g"},{"m":158,"v":1.5,"c":"w"},{"m":160,"v":2,"c":"r"},{"m":162,"v":2.5,"c":"g"},{"m":164,"v":1.5,"c":"w"},{"m":166,"v":2,"c":"r"},{"m":168,"v":2,"c":"g"},{"m":170,"v":1.5,"c":"r"},{"m":172,"v":2,"c":"g"},{"m":174,"v":1.5,"c":"w"},{"m":176,"v":2,"c":"r"},{"m":178,"v":2.5,"c":"g"},{"m":180,"v":2,"c":"r"},{"m":182,"v":3,"c":"g"},{"m":184,"v":2,"c":"r"},{"m":186,"v":1.5,"c":"w"},{"m":188,"v":2,"c":"g"},{"m":190,"v":1.5,"c":"r"},{"m":192,"v":2,"c":"g"},{"m":194,"v":1.5,"c":"w"},{"m":196,"v":2,"c":"r"},{"m":198,"v":2,"c":"g"},{"m":200,"v":1.5,"c":"r"},{"m":202,"v":2,"c":"g"},{"m":204,"v":1.5,"c":"w"},{"m":206,"v":2,"c":"r"},{"m":208,"v":2.5,"c":"g"},{"m":210,"v":1.5,"c":"r"},{"m":212,"v":2,"c":"g"},{"m":214,"v":1.5,"c":"w"},{"m":216,"v":2,"c":"r"},{"m":218,"v":2,"c":"g"},{"m":220,"v":1.5,"c":"r"},{"m":222,"v":2,"c":"g"},{"m":224,"v":2.5,"c":"r"},{"m":226,"v":2,"c":"g"},{"m":228,"v":1.5,"c":"w"},{"m":230,"v":2,"c":"g"},{"m":232,"v":2.5,"c":"r"},{"m":234,"v":2,"c":"g"},{"m":236,"v":3,"c":"g"},{"m":238,"v":5.5,"c":"g"},{"m":239.5,"v":3,"c":"r"}],
"p4": [{"m":0,"p":-4.27},{"m":0.2,"p":-0.84},{"m":1,"p":-0.47},{"m":1.7,"p":-1.2},{"m":2.4,"p":-0.22},{"m":3.1,"p":-0.96},{"m":3.9,"p":-0.65},{"m":4.6,"p":0.02},{"m":5.3,"p":-1.08},{"m":6,"p":-0.47},{"m":6.7,"p":-1.33},{"m":8.2,"p":-0.71},{"m":8.9,"p":-1.08},{"m":9.6,"p":-0.84},{"m":10.4,"p":0.02},{"m":11.1,"p":0.64},{"m":12.5,"p":1.15},{"m":13.3,"p":0.88},{"m":14,"p":0.39},{"m":15.4,"p":-0.16},{"m":16.1,"p":-0.47},{"m":16.9,"p":-0.34},{"m":17.6,"p":-0.65},{"m":18.3,"p":-0.34},{"m":19,"p":-0.65},{"m":19.8,"p":-0.47},{"m":20.5,"p":-0.77},{"m":21.2,"p":-0.47},{"m":22.7,"p":-0.84},{"m":24.1,"p":-1.69},{"m":24.8,"p":-1.94},{"m":25.5,"p":-1.45},{"m":26.3,"p":-1.69},{"m":27,"p":-1.51},{"m":28.4,"p":-1.45},{"m":29.9,"p":-2.06},{"m":30.6,"p":-2.25},{"m":31.3,"p":-2.12},{"m":32,"p":-2.31},{"m":32.8,"p":-2.19},{"m":34.2,"p":-2.92},{"m":34.9,"p":-2.74},{"m":36.4,"p":-3.05},{"m":37.8,"p":-3.72},{"m":38.6,"p":-3.29},{"m":40,"p":-3.05},{"m":40.7,"p":-3.41},{"m":41.4,"p":-3.11},{"m":42.2,"p":-3.05},{"m":43.6,"p":-3.78},{"m":44.3,"p":-3.91},{"m":45.1,"p":-3.6},{"m":46.5,"p":-3.66},{"m":48,"p":-4.09},{"m":48.7,"p":-3.91},{"m":50.1,"p":-4.52},{"m":51.6,"p":-4.15},{"m":53,"p":-4.52},{"m":54.5,"p":-4.89},{"m":55.9,"p":-4.4},{"m":56.6,"p":-4.03},{"m":57.3,"p":-4.27},{"m":58.8,"p":-4.21},{"m":59.5,"p":-3.78},{"m":60.2,"p":-4.03},{"m":61,"p":-3.66},{"m":62.4,"p":-3.54},{"m":63.1,"p":-3.78},{"m":63.9,"p":-3.6},{"m":65.3,"p":-3.97},{"m":66.7,"p":-4.21},{"m":68.2,"p":-4.4},{"m":69.6,"p":-3.91},{"m":71.1,"p":-3.41},{"m":72.5,"p":-3.72},{"m":73.3,"p":-3.41},{"m":74.7,"p":-3.29},{"m":75.4,"p":-3.11},{"m":76.9,"p":-3.41},{"m":77.6,"p":-3.29},{"m":79,"p":-3.6},{"m":79.8,"p":-3.35},{"m":81.2,"p":-3.29},{"m":81.9,"p":-3.48},{"m":83.4,"p":-3.17},{"m":84.1,"p":-3.41},{"m":85.5,"p":-3.23},{"m":87,"p":-3.29},{"m":88.4,"p":-3.29},{"m":89.9,"p":-3.41},{"m":91.3,"p":-3.41},{"m":92.8,"p":-3.78},{"m":94.2,"p":-4.03},{"m":95.7,"p":-3.84},{"m":97.1,"p":-3.78},{"m":98.6,"p":-3.84},{"m":99.3,"p":-3.91},{"m":100.7,"p":-3.6},{"m":102.2,"p":-3.17},{"m":103.6,"p":-2.68},{"m":105.1,"p":-3.17},{"m":106.5,"p":-2.86},{"m":107.2,"p":-3.11},{"m":108,"p":-2.92},{"m":109.4,"p":-3.17},{"m":110.8,"p":-3.41},{"m":112.3,"p":-3.41},{"m":113,"p":-3.54},{"m":114.5,"p":-3.48},{"m":115.2,"p":-3.35},{"m":116.6,"p":-3.6},{"m":118.8,"p":-3.66},{"m":121,"p":-3.54},{"m":122.4,"p":-3.54},{"m":123.9,"p":-3.23},{"m":125.3,"p":-3.02},{"m":126.7,"p":-3.11},{"m":128.2,"p":-3.29},{"m":129.6,"p":-3.48},{"m":130.4,"p":-3.54},{"m":131.8,"p":-3.29},{"m":133.3,"p":-2.92},{"m":134.7,"p":-2.43},{"m":136.1,"p":-2.06},{"m":137.6,"p":-2.43},{"m":139,"p":-2.68},{"m":140.5,"p":-2.68},{"m":141.9,"p":-3.11},{"m":143.4,"p":-2.68},{"m":144.8,"p":-2.06},{"m":146.3,"p":-1.82},{"m":147.7,"p":-1.33},{"m":149.2,"p":-0.84},{"m":149.9,"p":-0.34},{"m":150.6,"p":-0.71},{"m":151.3,"p":-0.47},{"m":152.8,"p":-0.71},{"m":153.5,"p":-0.34},{"m":154.9,"p":-0.84},{"m":156.4,"p":-1.33},{"m":157.1,"p":-1.63},{"m":158.6,"p":-0.47},{"m":160,"p":0.15},{"m":160.7,"p":0.21},{"m":161.4,"p":0.02},{"m":162.2,"p":-0.28},{"m":162.9,"p":0.15},{"m":164.3,"p":0.39},{"m":165.1,"p":0.27},{"m":165.8,"p":0.52},{"m":167.2,"p":0.15},{"m":168.7,"p":0.02},{"m":170.1,"p":-0.41},{"m":170.8,"p":-0.65},{"m":172.3,"p":-0.22},{"m":173.7,"p":0.09},{"m":175.2,"p":0.15},{"m":176.6,"p":0.15},{"m":178.1,"p":-0.16},{"m":178.8,"p":0.02},{"m":180.2,"p":0.09},{"m":181.7,"p":0.15},{"m":183.1,"p":0.15},{"m":184.6,"p":-0.04},{"m":186,"p":-0.41},{"m":187.5,"p":-0.47},{"m":188.9,"p":-0.59},{"m":190.4,"p":-0.59},{"m":191.1,"p":-0.65},{"m":192.5,"p":-0.41},{"m":194,"p":-0.22},{"m":194.7,"p":-0.41},{"m":195.4,"p":-0.53},{"m":196.9,"p":-0.22},{"m":197.6,"p":-0.16},{"m":199,"p":-0.41},{"m":200.5,"p":-0.53},{"m":201.9,"p":-0.71},{"m":203.4,"p":-1.08},{"m":204.1,"p":-0.96},{"m":205.5,"p":-0.71},{"m":207,"p":-0.77},{"m":208.4,"p":-0.96},{"m":209.9,"p":-0.71},{"m":211.3,"p":-0.65},{"m":212,"p":-0.53},{"m":213.5,"p":-0.65},{"m":214.9,"p":-0.84},{"m":216.4,"p":-1.14},{"m":217.8,"p":-1.45},{"m":219.3,"p":-1.26},{"m":220.7,"p":-1.2},{"m":222.2,"p":-1.14},{"m":222.9,"p":-1.02},{"m":224.3,"p":-1.2},{"m":225.8,"p":-1.26},{"m":227.2,"p":-1.45},{"m":228,"p":-1.51},{"m":229.4,"p":-1.33},{"m":231,"p":-1.3}],
"a4": [{"m":0,"p":-2.68},{"m":0.2,"p":-2.26},{"m":1,"p":-1.94},{"m":1.9,"p":-1.69},{"m":3.1,"p":-1.6},{"m":4.3,"p":-1.57},{"m":6.7,"p":-1.55},{"m":9.2,"p":-1.45},{"m":10.4,"p":-1.39},{"m":11.6,"p":-1.2},{"m":12.8,"p":-1.08},{"m":15.2,"p":-1.02},{"m":18.8,"p":-0.99},{"m":22.4,"p":-0.99},{"m":24.8,"p":-1.04},{"m":27.2,"p":-1.11},{"m":30.8,"p":-1.18},{"m":34.5,"p":-1.27},{"m":38.1,"p":-1.39},{"m":41.7,"p":-1.47},{"m":45.3,"p":-1.57},{"m":48.9,"p":-1.69},{"m":52.5,"p":-1.84},{"m":56.1,"p":-1.92},{"m":59.8,"p":-1.98},{"m":67,"p":-2.04},{"m":76.6,"p":-2.06},{"m":93.5,"p":-2.1},{"m":107.9,"p":-2.14},{"m":122.4,"p":-2.19},{"m":136.9,"p":-2.22},{"m":146.5,"p":-2.22},{"m":151.3,"p":-2.16},{"m":165.8,"p":-2.06},{"m":180.2,"p":-2},{"m":189.9,"p":-1.97},{"m":201.9,"p":-1.94},{"m":214,"p":-1.92},{"m":231,"p":-1.89}],
"v4": [{"m":0,"v":8,"c":"g"},{"m":1,"v":29.5,"c":"r"},{"m":2,"v":22,"c":"g"},{"m":3,"v":17,"c":"r"},{"m":4,"v":14,"c":"g"},{"m":5,"v":15,"c":"g"},{"m":6,"v":12.5,"c":"r"},{"m":7,"v":10,"c":"g"},{"m":8,"v":7.5,"c":"w"},{"m":9,"v":9,"c":"g"},{"m":10,"v":11,"c":"r"},{"m":11,"v":6,"c":"g"},{"m":12,"v":16,"c":"r"},{"m":13,"v":9,"c":"g"},{"m":14,"v":7.5,"c":"g"},{"m":15,"v":5,"c":"r"},{"m":16,"v":8,"c":"g"},{"m":17,"v":6,"c":"r"},{"m":18,"v":5.5,"c":"g"},{"m":19,"v":5,"c":"r"},{"m":20,"v":7.5,"c":"g"},{"m":21,"v":4,"c":"g"},{"m":22,"v":4,"c":"r"},{"m":23,"v":5,"c":"g"},{"m":24,"v":10,"c":"g"},{"m":25,"v":16,"c":"g"},{"m":26,"v":7.5,"c":"w"},{"m":27,"v":6,"c":"g"},{"m":28,"v":4,"c":"r"},{"m":29,"v":7.5,"c":"r"},{"m":30,"v":15,"c":"g"},{"m":31,"v":7.5,"c":"r"},{"m":32,"v":4,"c":"g"},{"m":33,"v":9,"c":"g"},{"m":34,"v":6,"c":"r"},{"m":35,"v":6,"c":"w"},{"m":36,"v":9,"c":"g"},{"m":37,"v":4,"c":"r"},{"m":38,"v":15,"c":"g"},{"m":39,"v":6,"c":"r"},{"m":40,"v":7.5,"c":"g"},{"m":41,"v":5,"c":"r"},{"m":42,"v":4,"c":"g"},{"m":43,"v":11,"c":"g"},{"m":44,"v":4,"c":"w"},{"m":45,"v":6,"c":"r"},{"m":46,"v":5,"c":"g"},{"m":47,"v":5,"c":"r"},{"m":48,"v":6,"c":"g"},{"m":49,"v":4,"c":"r"},{"m":50,"v":21,"c":"g"},{"m":51,"v":6,"c":"g"},{"m":52,"v":4,"c":"r"},{"m":53,"v":6,"c":"g"},{"m":54,"v":4,"c":"w"},{"m":55,"v":7.5,"c":"g"},{"m":56,"v":7.5,"c":"r"},{"m":57,"v":6,"c":"g"},{"m":58,"v":4,"c":"r"},{"m":60,"v":3,"c":"g"},{"m":62,"v":2.5,"c":"r"},{"m":64,"v":3,"c":"g"},{"m":66,"v":2.5,"c":"w"},{"m":68,"v":3,"c":"r"},{"m":70,"v":2.5,"c":"g"},{"m":72,"v":2,"c":"r"},{"m":74,"v":3,"c":"g"},{"m":76,"v":2,"c":"w"},{"m":78,"v":2.5,"c":"r"},{"m":80,"v":2.5,"c":"g"},{"m":82,"v":2,"c":"r"},{"m":84,"v":3,"c":"g"},{"m":86,"v":2,"c":"w"},{"m":88,"v":2.5,"c":"g"},{"m":90,"v":2,"c":"r"},{"m":92,"v":2.5,"c":"g"},{"m":94,"v":2,"c":"r"},{"m":96,"v":2,"c":"w"},{"m":98,"v":2.5,"c":"g"},{"m":100,"v":2,"c":"r"},{"m":102,"v":2.5,"c":"g"},{"m":104,"v":2,"c":"w"},{"m":106,"v":2,"c":"r"},{"m":108,"v":2.5,"c":"g"},{"m":110,"v":2,"c":"r"},{"m":112,"v":2,"c":"g"},{"m":114,"v":1.5,"c":"w"},{"m":116,"v":2,"c":"r"},{"m":118,"v":2,"c":"g"},{"m":121,"v":2.5,"c":"g"},{"m":123,"v":2,"c":"r"},{"m":125,"v":2,"c":"w"},{"m":127,"v":2.5,"c":"g"},{"m":129,"v":2,"c":"r"},{"m":131,"v":2,"c":"g"},{"m":133,"v":2.5,"c":"r"},{"m":134,"v":4.5,"c":"g"},{"m":136,"v":3,"c":"r"},{"m":138,"v":3.5,"c":"r"},{"m":140,"v":3.5,"c":"g"},{"m":142,"v":2,"c":"g"},{"m":144,"v":3.5,"c":"g"},{"m":146,"v":2.5,"c":"r"},{"m":148,"v":2,"c":"g"},{"m":150,"v":6,"c":"r"},{"m":151,"v":5,"c":"g"},{"m":153,"v":2.5,"c":"g"},{"m":154,"v":3,"c":"r"},{"m":156,"v":2.5,"c":"g"},{"m":158,"v":2,"c":"r"},{"m":160,"v":8.5,"c":"w"},{"m":161,"v":5,"c":"g"},{"m":163,"v":2.5,"c":"g"},{"m":165,"v":3,"c":"r"},{"m":167,"v":2,"c":"g"},{"m":169,"v":2.5,"c":"r"},{"m":171,"v":2,"c":"w"},{"m":173,"v":2.5,"c":"g"},{"m":175,"v":2,"c":"r"},{"m":177,"v":2.5,"c":"g"},{"m":179,"v":2,"c":"r"},{"m":181,"v":2,"c":"g"},{"m":183,"v":2,"c":"w"},{"m":185,"v":2.5,"c":"g"},{"m":187,"v":2,"c":"r"},{"m":189,"v":2,"c":"g"},{"m":191,"v":2,"c":"r"},{"m":193,"v":2.5,"c":"g"},{"m":195,"v":2,"c":"w"},{"m":197,"v":2,"c":"g"},{"m":199,"v":2.5,"c":"r"},{"m":201,"v":2,"c":"g"},{"m":203,"v":2,"c":"r"},{"m":205,"v":2.5,"c":"g"},{"m":207,"v":2,"c":"w"},{"m":209,"v":2,"c":"g"},{"m":211,"v":2.5,"c":"r"},{"m":213,"v":2,"c":"g"},{"m":215,"v":2.5,"c":"g"},{"m":216,"v":6,"c":"g"},{"m":218,"v":3,"c":"r"},{"m":220,"v":2.5,"c":"g"},{"m":222,"v":5,"c":"g"},{"m":224,"v":2.5,"c":"r"},{"m":226,"v":3,"c":"g"},{"m":227,"v":4.5,"c":"g"},{"m":229,"v":2.5,"c":"r"}]
},
"spacing": 2,
"hconcat": [
{"spacing": 8, "bounds": "flush", "hconcat": [
{
"width": 332, "height": 435,
"resolve": {"scale": {"y": "independent"}},
"layer": [
{"data": {"values": [{}]},
"layer": [
{"data": {"name": "g1"}, "mark": {"type": "rule", "color": "#b00000", "strokeWidth": 1, "clip": true}, "encoding": {"y": {"field": "g", "type": "quantitative", "scale": {"domain": [-8.92105, 4.81579], "nice": false, "zero": false}}}},
{"mark": {"type": "rule", "color": "#d40000", "strokeWidth": 2, "clip": true}, "encoding": {"y": {"datum": 0}}},
{"mark": {"type": "rule", "color": "#d40000", "strokeWidth": 2, "clip": true}, "encoding": {"y": {"datum": -4.2}}},
{"mark": {"type": "rule", "color": "#d40000", "strokeWidth": 2, "clip": true}, "encoding": {"y": {"datum": -8.4}}},
{"data": {"name": "vs"}, "mark": {"type": "rule", "color": "#c00000", "strokeWidth": 2, "clip": true}, "encoding": {"x": {"field": "t", "type": "quantitative", "scale": {"domain": [0, 240], "nice": false, "zero": false}}, "y": {"datum": 4.2}, "y2": {"datum": -8.4}}},
{"data": {"name": "vd"}, "mark": {"type": "rule", "color": "#c00000", "strokeWidth": 1, "strokeDash": [1, 2], "clip": true}, "encoding": {"x": {"field": "t", "type": "quantitative"}, "y": {"datum": 4.2}, "y2": {"datum": -8.4}}},
{"data": {"name": "a1"}, "mark": {"type": "line", "color": "#ffff00", "strokeWidth": 1.2, "clip": true}, "encoding": {"x": {"field": "m", "type": "quantitative"}, "y": {"field": "p", "type": "quantitative"}}},
{"data": {"name": "p1"}, "mark": {"type": "line", "color": "#ffffff", "strokeWidth": 1, "clip": true}, "encoding": {"x": {"field": "m", "type": "quantitative"}, "y": {"field": "p", "type": "quantitative"}}},
{"mark": {"type": "text", "align": "left", "baseline": "middle", "font": "Noto Sans CJK SC", "fontSize": 12, "color": "#d0d0d0", "clip": true}, "encoding": {"x": {"datum": 0}, "y": {"datum": 4.532}, "text": {"value": "创新医疗"}}},
{"mark": {"type": "text", "align": "left", "baseline": "middle", "font": "Liberation Sans", "fontSize": 12, "color": "#d0d0d0", "clip": true}, "encoding": {"x": {"datum": 42.5}, "y": {"datum": 4.532}, "text": {"value": "2025-06-18"}}},
{"mark": {"type": "text", "align": "right", "baseline": "middle", "font": "Noto Sans CJK SC", "fontSize": 12, "color": "#e0e000", "clip": true}, "encoding": {"x": {"datum": 222}, "y": {"datum": 4.532}, "text": {"value": "超盘"}}},
{"mark": {"type": "text", "align": "center", "baseline": "middle", "font": "DejaVu Sans", "fontSize": 13, "color": "#a0a0a0", "clip": true}, "encoding": {"x": {"datum": 233.5}, "y": {"datum": 4.532}, "text": {"value": "◨"}}},
{"data": {"name": "tl"}, "mark": {"type": "text", "align": "right", "baseline": "middle", "font": "Liberation Sans", "fontSize": 12, "color": "#ee3030", "clip": true}, "encoding": {"x": {"field": "t", "type": "quantitative"}, "y": {"datum": -8.637}, "text": {"field": "l"}}},
{"mark": {"type": "rect", "color": "#000080", "stroke": "#6a6aa8", "strokeWidth": 1, "clip": true}, "encoding": {"x": {"datum": 85.5}, "x2": {"datum": 109.5}, "y": {"datum": -8.4316}, "y2": {"datum": -8.92105}}},
{"mark": {"type": "text", "align": "center", "baseline": "middle", "font": "Liberation Sans", "fontSize": 12, "color": "#d8d8ff", "clip": true}, "encoding": {"x": {"datum": 97.5}, "y": {"datum": -8.637}, "text": {"value": "11:19"}}}
]},
{"data": {"name": "v1"}, "mark": {"type": "rule", "strokeWidth": 1.2, "clip": true}, "encoding": {"x": {"field": "m", "type": "quantitative"}, "y": {"field": "v", "type": "quantitative", "scale": {"domain": [-12.41, 314.66], "nice": false, "zero": false}}, "y2": {"datum": 0}, "color": {"field": "c", "type": "nominal", "scale": {"domain": ["r", "g", "w"], "range": ["#ff3c3c", "#22dd22", "#ffffff"]}, "legend": null}}}
]
},
{
"width": 316, "height": 435,
"resolve": {"scale": {"y": "independent"}},
"layer": [
{"data": {"values": [{}]},
"layer": [
{"data": {"name": "g2"}, "mark": {"type": "rule", "color": "#b00000", "strokeWidth": 1, "clip": true}, "encoding": {"y": {"field": "g", "type": "quantitative", "scale": {"domain": [-21.1113, 11.6282], "nice": false, "zero": false}}}},
{"mark": {"type": "rule", "color": "#d40000", "strokeWidth": 2, "clip": true}, "encoding": {"y": {"datum": 0}}},
{"mark": {"type": "rule", "color": "#d40000", "strokeWidth": 2, "clip": true}, "encoding": {"y": {"datum": -10.01}}},
{"mark": {"type": "rule", "color": "#d40000", "strokeWidth": 2, "clip": true}, "encoding": {"y": {"datum": -20.02}}},
{"data": {"name": "vs"}, "mark": {"type": "rule", "color": "#c00000", "strokeWidth": 2, "clip": true}, "encoding": {"x": {"field": "t", "type": "quantitative", "scale": {"domain": [0, 228.43], "nice": false, "zero": false}}, "y": {"datum": 10.01}, "y2": {"datum": -20.02}}},
{"data": {"name": "vd"}, "mark": {"type": "rule", "color": "#c00000", "strokeWidth": 1, "strokeDash": [1, 2], "clip": true}, "encoding": {"x": {"field": "t", "type": "quantitative"}, "y": {"datum": 10.01}, "y2": {"datum": -20.02}}},
{"data": {"name": "a2"}, "mark": {"type": "line", "color": "#ffff00", "strokeWidth": 1.2, "clip": true}, "encoding": {"x": {"field": "m", "type": "quantitative"}, "y": {"field": "p", "type": "quantitative"}}},
{"data": {"name": "p2"}, "mark": {"type": "line", "color": "#ffffff", "strokeWidth": 1, "clip": true}, "encoding": {"x": {"field": "m", "type": "quantitative"}, "y": {"field": "p", "type": "quantitative"}}},
{"mark": {"type": "text", "align": "left", "baseline": "middle", "font": "Noto Sans CJK SC", "fontSize": 12, "color": "#d0d0d0", "clip": true}, "encoding": {"x": {"datum": 0.5}, "y": {"datum": 10.8}, "text": {"value": "创新医疗"}}},
{"mark": {"type": "text", "align": "left", "baseline": "middle", "font": "Liberation Sans", "fontSize": 12, "color": "#d0d0d0", "clip": true}, "encoding": {"x": {"datum": 43}, "y": {"datum": 10.8}, "text": {"value": "2025-06-19"}}},
{"mark": {"type": "text", "align": "right", "baseline": "middle", "font": "Noto Sans CJK SC", "fontSize": 12, "color": "#e0e000", "clip": true}, "encoding": {"x": {"datum": 222.5}, "y": {"datum": 10.8}, "text": {"value": "超盘"}}},
{"data": {"name": "tl"}, "mark": {"type": "text", "align": "right", "baseline": "middle", "font": "Liberation Sans", "fontSize": 12, "color": "#ee3030", "clip": true}, "encoding": {"x": {"field": "t", "type": "quantitative"}, "y": {"datum": -20.585}, "text": {"field": "l"}}},
{"mark": {"type": "rect", "color": "#000080", "stroke": "#6a6aa8", "strokeWidth": 1, "clip": true}, "encoding": {"x": {"datum": 69.5}, "x2": {"datum": 93.5}, "y": {"datum": -20.095}, "y2": {"datum": -21.1113}}},
{"mark": {"type": "text", "align": "center", "baseline": "middle", "font": "Liberation Sans", "fontSize": 12, "color": "#d8d8ff", "clip": true}, "encoding": {"x": {"datum": 81.5}, "y": {"datum": -20.585}, "text": {"value": "11:03"}}}
]},
{"data": {"name": "v2"}, "mark": {"type": "rule", "strokeWidth": 1.2, "clip": true}, "encoding": {"x": {"field": "m", "type": "quantitative"}, "y": {"field": "v", "type": "quantitative", "scale": {"domain": [-10.9, 316.17], "nice": false, "zero": false}}, "y2": {"datum": 0}, "color": {"field": "c", "type": "nominal", "scale": {"domain": ["r", "g", "w"], "range": ["#ff3c3c", "#22dd22", "#ffffff"]}, "legend": null}}}
]
}
]},
{"spacing": 4, "bounds": "flush", "hconcat": [
{
"width": 332, "height": 435,
"resolve": {"scale": {"y": "independent"}},
"layer": [
{"data": {"values": [{}]},
"layer": [
{"data": {"name": "g3"}, "mark": {"type": "rule", "color": "#b00000", "strokeWidth": 1, "clip": true}, "encoding": {"y": {"field": "g", "type": "quantitative", "scale": {"domain": [-11.8526, 6.46316], "nice": false, "zero": false}}}},
{"mark": {"type": "rule", "color": "#d40000", "strokeWidth": 2, "clip": true}, "encoding": {"y": {"datum": 0}}},
{"mark": {"type": "rule", "color": "#d40000", "strokeWidth": 2, "clip": true}, "encoding": {"y": {"datum": -5.6}}},
{"mark": {"type": "rule", "color": "#d40000", "strokeWidth": 2, "clip": true}, "encoding": {"y": {"datum": -11.2}}},
{"data": {"name": "vs"}, "mark": {"type": "rule", "color": "#c00000", "strokeWidth": 2, "clip": true}, "encoding": {"x": {"field": "t", "type": "quantitative", "scale": {"domain": [0, 240], "nice": false, "zero": false}}, "y": {"datum": 5.6}, "y2": {"datum": -11.2}}},
{"data": {"name": "vd"}, "mark": {"type": "rule", "color": "#c00000", "strokeWidth": 1, "strokeDash": [1, 2], "clip": true}, "encoding": {"x": {"field": "t", "type": "quantitative"}, "y": {"datum": 5.6}, "y2": {"datum": -11.2}}},
{"data": {"name": "a3"}, "mark": {"type": "line", "color": "#ffff00", "strokeWidth": 1.2, "clip": true}, "encoding": {"x": {"field": "m", "type": "quantitative"}, "y": {"field": "p", "type": "quantitative"}}},
{"data": {"name": "p3"}, "mark": {"type": "line", "color": "#ffffff", "strokeWidth": 1, "clip": true}, "encoding": {"x": {"field": "m", "type": "quantitative"}, "y": {"field": "p", "type": "quantitative"}}},
{"mark": {"type": "text", "align": "left", "baseline": "middle", "font": "Noto Sans CJK SC", "fontSize": 12, "color": "#d0d0d0", "clip": true}, "encoding": {"x": {"datum": 0.5}, "y": {"datum": 6.084}, "text": {"value": "创新医疗"}}},
{"mark": {"type": "text", "align": "left", "baseline": "middle", "font": "Liberation Sans", "fontSize": 12, "color": "#d0d0d0", "clip": true}, "encoding": {"x": {"datum": 43}, "y": {"datum": 6.084}, "text": {"value": "2025-06-20"}}},
{"mark": {"type": "text", "align": "right", "baseline": "middle", "font": "Noto Sans CJK SC", "fontSize": 12, "color": "#e0e000", "clip": true}, "encoding": {"x": {"datum": 222}, "y": {"datum": 6.084}, "text": {"value": "超盘"}}},
{"mark": {"type": "text", "align": "center", "baseline": "middle", "font": "DejaVu Sans", "fontSize": 13, "color": "#a0a0a0", "clip": true}, "encoding": {"x": {"datum": 233.5}, "y": {"datum": 6.084}, "text": {"value": "◨"}}},
{"data": {"name": "tl"}, "mark": {"type": "text", "align": "right", "baseline": "middle", "font": "Liberation Sans", "fontSize": 12, "color": "#ee3030", "clip": true}, "encoding": {"x": {"field": "t", "type": "quantitative"}, "y": {"datum": -11.474}, "text": {"field": "l"}}},
{"mark": {"type": "rect", "color": "#000080", "stroke": "#6a6aa8", "strokeWidth": 1, "clip": true}, "encoding": {"x": {"datum": 98.5}, "x2": {"datum": 122.5}, "y": {"datum": -11.242}, "y2": {"datum": -11.8526}}},
{"mark": {"type": "text", "align": "center", "baseline": "middle", "font": "Liberation Sans", "fontSize": 12, "color": "#d8d8ff", "clip": true}, "encoding": {"x": {"datum": 110.5}, "y": {"datum": -11.474}, "text": {"value": "13:02"}}}
]},
{"data": {"name": "v3"}, "mark": {"type": "rule", "strokeWidth": 1.2, "clip": true}, "encoding": {"x": {"field": "m", "type": "quantitative"}, "y": {"field": "v", "type": "quantitative", "scale": {"domain": [-11.65, 315.41], "nice": false, "zero": false}}, "y2": {"datum": 0}, "color": {"field": "c", "type": "nominal", "scale": {"domain": ["r", "g", "w"], "range": ["#ff3c3c", "#22dd22", "#ffffff"]}, "legend": null}}}
]
},
{
"width": 318, "height": 435,
"resolve": {"scale": {"y": "independent"}},
"layer": [
{"data": {"values": [{}]},
"layer": [
{"data": {"name": "g4"}, "mark": {"type": "rule", "color": "#b00000", "strokeWidth": 1, "clip": true}, "encoding": {"y": {"field": "g", "type": "quantitative", "scale": {"domain": [-10.3342, 5.69211], "nice": false, "zero": false}}}},
{"mark": {"type": "rule", "color": "#d40000", "strokeWidth": 2, "clip": true}, "encoding": {"y": {"datum": 0}}},
{"mark": {"type": "rule", "color": "#d40000", "strokeWidth": 2, "clip": true}, "encoding": {"y": {"datum": -4.9}}},
{"mark": {"type": "rule", "color": "#d40000", "strokeWidth": 2, "clip": true}, "encoding": {"y": {"datum": -9.8}}},
{"data": {"name": "vs"}, "mark": {"type": "rule", "color": "#c00000", "strokeWidth": 2, "clip": true}, "encoding": {"x": {"field": "t", "type": "quantitative", "scale": {"domain": [0, 229.88], "nice": false, "zero": false}}, "y": {"datum": 4.9}, "y2": {"datum": -9.8}}},
{"data": {"name": "vd"}, "mark": {"type": "rule", "color": "#c00000", "strokeWidth": 1, "strokeDash": [1, 2], "clip": true}, "encoding": {"x": {"field": "t", "type": "quantitative"}, "y": {"datum": 4.9}, "y2": {"datum": -9.8}}},
{"data": {"name": "a4"}, "mark": {"type": "line", "color": "#ffff00", "strokeWidth": 1.2, "clip": true}, "encoding": {"x": {"field": "m", "type": "quantitative"}, "y": {"field": "p", "type": "quantitative"}}},
{"data": {"name": "p4"}, "mark": {"type": "line", "color": "#ffffff", "strokeWidth": 1, "clip": true}, "encoding": {"x": {"field": "m", "type": "quantitative"}, "y": {"field": "p", "type": "quantitative"}}},
{"mark": {"type": "text", "align": "left", "baseline": "middle", "font": "Noto Sans CJK SC", "fontSize": 12, "color": "#d0d0d0", "clip": true}, "encoding": {"x": {"datum": 0.3}, "y": {"datum": 5.305}, "text": {"value": "创新医疗"}}},
{"mark": {"type": "text", "align": "left", "baseline": "middle", "font": "Liberation Sans", "fontSize": 12, "color": "#d0d0d0", "clip": true}, "encoding": {"x": {"datum": 42.7}, "y": {"datum": 5.305}, "text": {"value": "2025-06-23"}}},
{"mark": {"type": "text", "align": "right", "baseline": "middle", "font": "Noto Sans CJK SC", "fontSize": 12, "color": "#e0e000", "clip": true}, "encoding": {"x": {"datum": 222}, "y": {"datum": 5.305}, "text": {"value": "超盘"}}},
{"data": {"name": "tl"}, "mark": {"type": "text", "align": "right", "baseline": "middle", "font": "Liberation Sans", "fontSize": 12, "color": "#ee3030", "clip": true}, "encoding": {"x": {"field": "t", "type": "quantitative"}, "y": {"datum": -10.076}, "text": {"field": "l"}}},
{"mark": {"type": "rect", "color": "#000080", "stroke": "#6a6aa8", "strokeWidth": 1, "clip": true}, "encoding": {"x": {"datum": 182.5}, "x2": {"datum": 206.5}, "y": {"datum": -9.837}, "y2": {"datum": -10.3342}}},
{"mark": {"type": "text", "align": "center", "baseline": "middle", "font": "Liberation Sans", "fontSize": 12, "color": "#d8d8ff", "clip": true}, "encoding": {"x": {"datum": 194.5}, "y": {"datum": -10.076}, "text": {"value": "14:26"}}},
{"mark": {"type": "text", "align": "left", "baseline": "middle", "font": "Noto Sans CJK SC", "fontSize": 29, "fontWeight": "bold", "color": "#ffffff", "clip": true}, "encoding": {"x": {"datum": 18.1}, "y": {"datum": -7.755}, "text": {"value": "--创新医疗1B买入前"}}}
]},
{"data": {"name": "v4"}, "mark": {"type": "rule", "strokeWidth": 1.2, "clip": true}, "encoding": {"x": {"field": "m", "type": "quantitative"}, "y": {"field": "v", "type": "quantitative", "scale": {"domain": [-10.9, 316.17], "nice": false, "zero": false}}, "y2": {"datum": 0}, "color": {"field": "c", "type": "nominal", "scale": {"domain": ["r", "g", "w"], "range": ["#ff3c3c", "#22dd22", "#ffffff"]}, "legend": null}}}
]
}
]}
]
}
